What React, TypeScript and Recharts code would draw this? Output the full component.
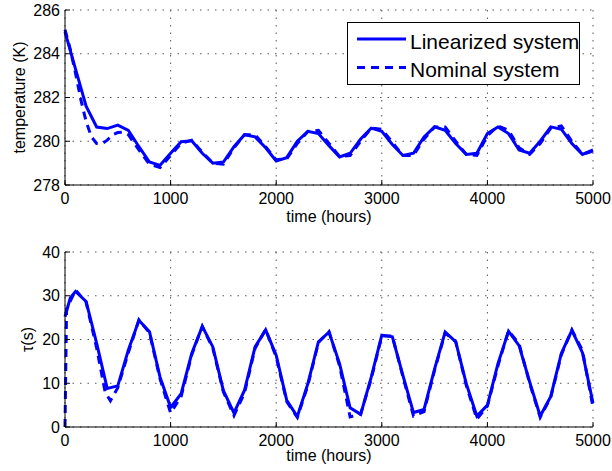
import React from 'react';
import { LineChart, Line, XAxis, YAxis, CartesianGrid, Legend } from 'recharts';

// ---- data ----
const timeTempLin = [0,100,200,300,400,500,600,700,800,900,1000,1100,1200,1300,1400,1500,1600,1700,1800,1900,2000,2100,2200,2300,2400,2500,2600,2700,2800,2900,3000,3100,3200,3300,3400,3500,3600,3700,3800,3900,4000,4100,4200,4300,4400,4500,4600,4700,4800,4900,5000];
const tempLin = [285.0,283.3,281.6,280.65,280.58,280.74,280.5,279.75,279.05,278.9,279.45,279.98,280.02,279.45,279.0,279.05,279.75,280.3,280.2,279.7,279.1,279.25,280.0,280.45,280.35,279.8,279.28,279.45,280.1,280.6,280.45,279.85,279.35,279.45,280.2,280.66,280.5,279.9,279.4,279.45,280.35,280.65,280.35,279.6,279.45,280.0,280.66,280.55,279.9,279.4,279.6];

const timeTempNom = [0,50,100,150,200,250,300,350,400,450,500,550,600,700,800,900,1000,1100,1200,1300,1400,1500,1600,1700,1800,1900,2000,2100,2200,2300,2400,2500,2600,2700,2800,2900,3000,3100,3200,3300,3400,3500,3600,3700,3800,3900,4000,4100,4200,4300,4400,4500,4600,4700,4800,4900,5000];
const tempNom = [285.1,284.2,283.1,281.9,280.9,280.2,279.9,279.88,280.05,280.3,280.4,280.42,280.3,279.6,278.95,278.8,279.35,279.9,280.05,279.5,279.0,278.95,279.7,280.3,280.3,279.75,279.15,279.2,279.9,280.45,280.5,279.9,279.3,279.35,280.0,280.6,280.55,279.95,279.35,279.35,280.1,280.65,280.65,280.0,279.4,279.35,280.25,280.7,280.5,279.7,279.4,279.9,280.6,280.7,280.0,279.4,279.55];

const timeTauLin = [0,50,100,200,300,400,500,600,700,800,900,1000,1100,1200,1300,1400,1500,1600,1700,1800,1900,2000,2100,2200,2300,2400,2500,2600,2700,2800,2900,3000,3100,3200,3300,3400,3500,3600,3700,3800,3900,4000,4100,4200,4300,4400,4500,4600,4700,4800,4900,5000];
const tauLin = [25.2,29.5,31.0,28.7,19.1,8.8,9.4,17.6,24.4,21.8,11.4,4.5,7.6,16.8,23.0,18.3,8.3,3.2,8.4,18.3,22.2,16.4,6.1,2.4,9.9,19.5,21.7,14.5,4.4,2.9,11.4,21.0,20.6,11.8,3.3,4.0,13.3,21.7,19.5,9.9,2.5,5.0,14.5,21.9,18.6,10.3,2.5,7.0,16.8,22.1,17.0,5.5];

const timeTauNom = [0,15,100,200,300,380,430,500,600,700,800,900,1000,1100,1200,1300,1400,1500,1600,1700,1800,1900,2000,2100,2200,2300,2400,2500,2600,2700,2800,2900,3000,3100,3200,3300,3400,3500,3600,3700,3800,3900,4000,4100,4200,4300,4400,4500,4600,4700,4800,4900,5000];
const tauNom = [0,27,31.3,28.5,18.0,8.0,6.0,9.0,17.0,24.5,21.5,11.0,3.2,7.0,16.5,23.0,18.0,8.0,2.6,7.8,18.0,22.3,16.0,5.8,2.2,9.5,19.3,21.8,14.0,2.3,3.0,11.0,20.8,20.8,11.5,2.5,3.5,13.0,21.5,19.5,9.5,1.8,4.8,14.0,22.0,19.0,10.0,2.2,6.8,16.5,22.2,17.5,4.5];

const timeTicks = [0,1000,2000,3000,4000,5000];
const tempTicks = [278,280,282,284,286];
const tauTicks = [0,10,20,30,40];
const seriesNames = ['Linearized system', 'Nominal system'];

function merge(tA: number[], vA: number[], tB: number[], vB: number[]) {
  const map = new Map<number, any>();
  tA.forEach((t, i) => { map.set(t, { ...(map.get(t) || { t }), lin: vA[i] }); });
  tB.forEach((t, i) => { map.set(t, { ...(map.get(t) || { t }), nom: vB[i] }); });
  return Array.from(map.values()).sort((a, b) => a.t - b.t);
}

const tempData = merge(timeTempLin, tempLin, timeTempNom, tempNom);
const tauData = merge(timeTauLin, tauLin, timeTauNom, tauNom);

const FONT = '"Liberation Sans", Arial, Helvetica, sans-serif';
const BLUE = '#0000FF';
const tickStyle = { fontSize: 16, fill: '#000', fontFamily: FONT };

const LegendBox = () => (
  <svg width={234} height={64} style={{ display: 'block' }}>
    <rect x={0.5} y={0.5} width={232} height={62} fill="#fff" stroke="#000" strokeWidth={1} />
    <line x1={10} x2={59} y1={17} y2={17} stroke={BLUE} strokeWidth={3} />
    <text x={63} y={26.5} fontSize={21} fontFamily={FONT} fill="#000">{seriesNames[0]}</text>
    <line x1={10} x2={59} y1={45.5} y2={45.5} stroke={BLUE} strokeWidth={3} strokeDasharray="8 6" />
    <text x={63} y={55} fontSize={21} fontFamily={FONT} fill="#000">{seriesNames[1]}</text>
  </svg>
);

function Panel(props: {
  data: any[]; height: number; top: number; domain: [number, number]; yTicks: number[];
  yLabel: string; yLabelX: number; xLabelOffset: number; legend?: boolean;
}) {
  const { data, height, top, domain, yTicks, yLabel, yLabelX, xLabelOffset, legend } = props;
  return (
    <LineChart width={612} height={height} data={data} margin={{ top, right: 19, bottom: 0, left: 0 }}>
      <CartesianGrid xAxisId="b" yAxisId="l" stroke="#555" strokeDasharray="1.5 6" />
      <XAxis
        xAxisId="b" dataKey="t" type="number" domain={[0, 5000]} ticks={timeTicks}
        height={height - top - 175} tickSize={-5} tickMargin={13}
        tick={tickStyle} axisLine={{ stroke: '#000' }} tickLine={{ stroke: '#000' }}
        label={{
          content: (p: any) => {
            const vb = p.viewBox;
            return (
              <text x={vb.x + vb.width / 2} y={vb.y + xLabelOffset} textAnchor="middle" fontSize={16} fontFamily={FONT} fill="#000">time (hours)</text>
            );
          },
        }}
      />
      <XAxis
        xAxisId="t" orientation="top" dataKey="t" type="number" domain={[0, 5000]} ticks={timeTicks}
        height={0} tickSize={-5} tick={false} axisLine={{ stroke: '#000' }} tickLine={{ stroke: '#000' }}
      />
      <YAxis
        yAxisId="l" width={65} domain={domain} ticks={yTicks} tickSize={-5} tickMargin={10}
        tick={tickStyle} axisLine={{ stroke: '#000' }} tickLine={{ stroke: '#000' }} allowDataOverflow
        label={{
          content: (p: any) => {
            const vb = p.viewBox;
            const cy = vb.y + vb.height / 2;
            return (
              <text x={yLabelX} y={cy} transform={`rotate(-90, ${yLabelX}, ${cy})`} textAnchor="middle" dominantBaseline="central" fontSize={16} fontFamily={FONT} fill="#000">{yLabel}</text>
            );
          },
        }}
      />
      <YAxis
        yAxisId="r" orientation="right" width={0} domain={domain} ticks={yTicks} tickSize={-5}
        tick={false} axisLine={{ stroke: '#000' }} tickLine={{ stroke: '#000' }} allowDataOverflow
      />
      <Line xAxisId="b" yAxisId="l" dataKey="nom" name={seriesNames[1]} stroke={BLUE} strokeWidth={3} strokeDasharray="8 6" dot={false} connectNulls isAnimationActive={false} />
      <Line xAxisId="b" yAxisId="l" dataKey="lin" name={seriesNames[0]} stroke={BLUE} strokeWidth={3} dot={false} connectNulls isAnimationActive={false} />
      {legend && (
        <Legend
          layout="vertical" align="center" verticalAlign="middle"
          wrapperStyle={{ left: 347, top: 22, width: 234, height: 64 }}
          content={() => <LegendBox />}
        />
      )}
    </LineChart>
  );
}

export default function App() {
  return (
    <div style={{ position: 'absolute', left: 0, top: 0, width: 612, height: 471, background: '#fff', fontFamily: FONT }}>
      <div style={{ position: 'absolute', left: 0, top: 0 }}>
        <Panel data={tempData} height={240} top={10} domain={[278, 286]} yTicks={tempTicks} yLabel="temperature (K)" yLabelX={19} xLabelOffset={36.6} legend />
      </div>
      <div style={{ position: 'absolute', left: 0, top: 240 }}>
        <Panel data={tauData} height={231} top={12} domain={[0, 40]} yTicks={tauTicks} yLabel="τ(s)" yLabelX={27.5} xLabelOffset={34} />
      </div>
    </div>
  );
}
